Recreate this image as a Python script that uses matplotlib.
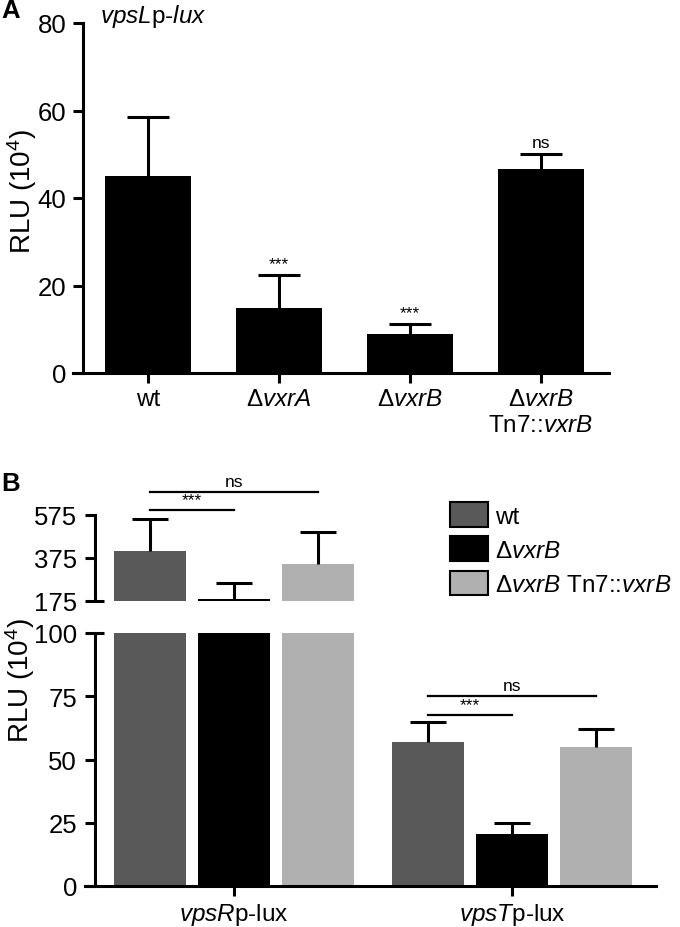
import numpy as np
import matplotlib
matplotlib.use('Agg')
import matplotlib.pyplot as plt
from matplotlib.patches import Patch

plt.rcParams['font.family'] = ['Liberation Sans', 'DejaVu Sans']
plt.rcParams['mathtext.fontset'] = 'custom'
plt.rcParams['mathtext.rm'] = 'Liberation Sans'
plt.rcParams['mathtext.it'] = 'Liberation Sans:italic'
plt.rcParams['mathtext.bf'] = 'Liberation Sans:bold'

# Panel A: vpsLp-lux
strains_a = ['wt', r'$\Delta\mathit{vxrA}$', r'$\Delta\mathit{vxrB}$',
             '$\\Delta\\mathit{vxrB}$\nTn7::$\\mathit{vxrB}$']
rlu_a = [45.0, 14.9, 9.0, 46.7]
err_a = [13.5, 7.4, 2.2, 3.3]
sig_a = ['', '***', '***', 'ns']

# Panel B: vpsRp-lux / vpsTp-lux
reporters = [r'$\mathit{vpsR}$p-lux', r'$\mathit{vpsT}$p-lux']
strains_b = ['wt', r'$\Delta\mathit{vxrB}$', r'$\Delta\mathit{vxrB}$ Tn7::$\mathit{vxrB}$']
rlu_b = [[407, 56.9],    # wt
         [185, 20.6],    # dvxrB
         [347, 54.9]]    # dvxrB Tn7::vxrB
err_b = [[149, 7.9],
         [74, 4.3],
         [149, 7.2]]
colors_b = ['#595959', '#000000', '#b0b0b0']
# brackets (strain i vs strain j, height) per reporter
brackets_b = [[(0, 1, 598, '***'), (0, 2, 682, 'ns')],
              [(0, 1, 67.6, '***'), (0, 2, 75.1, 'ns')]]

LW = 2.2
TICK_FS = 18.5
LAB_FS = 17.5
SIG_FS = 12.5


def up_errorbar(ax, x, y, e, cap):
    # only the upper half of the error bar, as in the original
    _, caps, _ = ax.errorbar(x, y, yerr=[np.zeros(len(y)), e], fmt='none',
                             ecolor='black', elinewidth=LW, capsize=cap, capthick=LW)
    caps[0].set_visible(False)


fig = plt.figure(figsize=(6.8, 9.28), dpi=100)

# ---------------- panel A ----------------
axA = fig.add_axes([73/680, 1-374/928, 536/680, 350/928])
xa = np.arange(len(rlu_a))
axA.bar(xa, rlu_a, width=0.66, color='black')
up_errorbar(axA, xa, rlu_a, err_a, 15)
for x, v, e, s in zip(xa, rlu_a, err_a, sig_a):
    if s:
        axA.annotate(s, (x, v+e), xytext=(0, 3), textcoords='offset points',
                     ha='center', va='bottom', fontsize=SIG_FS)
axA.set_xlim(-0.573, 3.52)
axA.set_ylim(0, 80)
axA.set_yticks([0, 20, 40, 60, 80])
axA.set_xticks(xa)
axA.set_xticklabels(strains_a, fontsize=LAB_FS)
for s in ['top', 'right']:
    axA.spines[s].set_visible(False)
axA.spines['left'].set_position(('data', -0.496))
for s in ['left', 'bottom']:
    axA.spines[s].set_linewidth(LW)
axA.tick_params(width=LW, length=7, pad=4)
axA.tick_params(axis='y', labelsize=TICK_FS, pad=5)
fig.text(100/680, 1-17/928, r'$\mathit{vpsL}$p-$\mathit{lux}$', fontsize=17.5, va='center')
fig.text(22/680, 1-192/928, r'RLU (10$^4$)', rotation=90, fontsize=20, va='center', ha='center')
fig.text(1/680, 1-11/928, 'A', fontsize=18.5, fontweight='bold', va='center')

# ---------------- panel B ----------------
group_x = np.array([0, 3.31])
xlim_b = (-0.774, 6.02)
spine_b = -0.655
axU = fig.add_axes([85/680, 1-602/928, 571/680, 122/928])
axL = fig.add_axes([85/680, 1-887/928, 571/680, 253/928])
for ax in (axU, axL):
    for i in range(3):
        ax.bar(group_x + i, rlu_b[i], width=0.857, color=colors_b[i])
        up_errorbar(ax, group_x + i, rlu_b[i], err_b[i], 13)
    ax.set_xlim(*xlim_b)
    for s in ['top', 'right']:
        ax.spines[s].set_visible(False)
    ax.spines['left'].set_position(('data', spine_b))
    for s in ['left', 'bottom']:
        ax.spines[s].set_linewidth(LW)
    ax.tick_params(width=LW, length=7, pad=4, labelsize=TICK_FS)
    ax.tick_params(axis='y', pad=6)

axU.set_ylim(175, 742)
axU.spines['left'].set_bounds(175, 575)
axU.spines['bottom'].set_visible(False)
axU.set_yticks([175, 375, 575])
axU.set_xticks([])
axU.plot([spine_b, spine_b + 0.11], [175, 175], color='black', lw=LW,
         solid_capstyle='butt', clip_on=False)

axL.set_ylim(0, 100)
axL.set_yticks([0, 25, 50, 75, 100])
axL.set_xticks(group_x + 1)
axL.set_xticklabels(reporters, fontsize=LAB_FS)
axL.plot([spine_b, spine_b + 0.11], [100, 100], color='black', lw=LW,
         solid_capstyle='butt', clip_on=False)

for g, ax in zip(range(2), (axU, axL)):
    for i, j, h, txt in brackets_b[g]:
        x1, x2 = group_x[g] + i, group_x[g] + j
        ax.plot([x1, x2], [h, h], color='black', lw=1.6, clip_on=False)
        ax.annotate(txt, ((x1+x2)/2, h), xytext=(0, 2), textcoords='offset points',
                    ha='center', va='bottom', fontsize=SIG_FS)

handles = [Patch(facecolor=c, edgecolor='black', linewidth=1.5) for c in colors_b]
fig.legend(handles, strains_b, loc='upper left', bbox_to_anchor=(450/680, 1-503/928),
           frameon=False, fontsize=17.5, handlelength=1.56, handleheight=1.19,
           handletextpad=0.29, labelspacing=0.36, borderpad=0, borderaxespad=0)

fig.text(20/680, 1-681/928, r'RLU (10$^4$)', rotation=90, fontsize=20, va='center', ha='center')
fig.text(1/680, 1-484/928, 'B', fontsize=18.5, fontweight='bold', va='center')

fig.savefig('out.png', dpi=100)
